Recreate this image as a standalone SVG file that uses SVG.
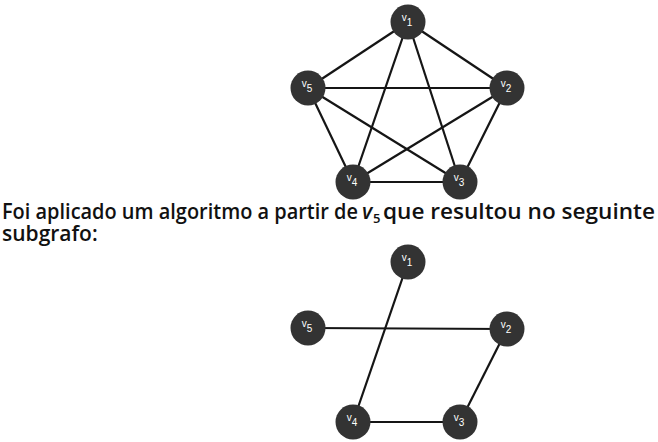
<svg xmlns="http://www.w3.org/2000/svg" width="658" height="442" viewBox="0 0 658 442">
<style>
.e{stroke:#151515;stroke-width:2.2;fill:none}
.n{fill:#333333}
.l{font-family:"Liberation Sans",Arial,sans-serif;font-size:10px;fill:#ffffff;text-anchor:middle}
.t{font-family:"Open Sans","Liberation Sans",sans-serif;font-size:21px;font-weight:600;fill:#111111}
.s{font-size:13px;font-style:normal}
</style>
<rect width="658" height="442" fill="#ffffff"/>
<g id="edges-top">
<line class="e" x1="408" y1="22" x2="507" y2="88"/>
<line class="e" x1="408" y1="22" x2="308" y2="88"/>
<line class="e" x1="408" y1="22" x2="353" y2="182"/>
<line class="e" x1="408" y1="22" x2="460" y2="182"/>
<line class="e" x1="308" y1="88" x2="507" y2="88"/>
<line class="e" x1="308" y1="88" x2="353" y2="182"/>
<line class="e" x1="308" y1="88" x2="460" y2="182"/>
<line class="e" x1="507" y1="88" x2="353" y2="182"/>
<line class="e" x1="507" y1="88" x2="460" y2="182"/>
<line class="e" x1="353" y1="182" x2="460" y2="182"/>
</g>
<g id="top-v1"><circle class="n" cx="408" cy="22" r="17.5"/><text class="l" x="407" y="21">v<tspan dy="5">1</tspan></text></g>
<g id="top-v2"><circle class="n" cx="507" cy="88" r="17.5"/><text class="l" x="506" y="87">v<tspan dy="5">2</tspan></text></g>
<g id="top-v3"><circle class="n" cx="460" cy="182" r="17.5"/><text class="l" x="459" y="181">v<tspan dy="5">3</tspan></text></g>
<g id="top-v4"><circle class="n" cx="353" cy="182" r="17.5"/><text class="l" x="352" y="181">v<tspan dy="5">4</tspan></text></g>
<g id="top-v5"><circle class="n" cx="308" cy="88" r="17.5"/><text class="l" x="307" y="87">v<tspan dy="5">5</tspan></text></g>
<g id="caption">
<text class="t"><tspan x="2" y="219" textLength="356" lengthAdjust="spacingAndGlyphs">Foi aplicado um algoritmo a partir de</tspan><tspan x="362" y="219" font-style="italic">v</tspan><tspan class="s" x="373" y="223">5</tspan><tspan x="383" y="219" textLength="272" lengthAdjust="spacingAndGlyphs">que resultou no seguinte</tspan><tspan x="2" y="241">subgrafo:</tspan></text>
</g>
<g id="edges-bottom">
<line class="e" x1="408" y1="262" x2="353" y2="422"/>
<line class="e" x1="308" y1="328" x2="507" y2="329"/>
<line class="e" x1="507" y1="329" x2="460" y2="422"/>
<line class="e" x1="353" y1="422" x2="460" y2="422"/>
</g>
<g id="bot-v1"><circle class="n" cx="408" cy="262" r="17.5"/><text class="l" x="407" y="261">v<tspan dy="5">1</tspan></text></g>
<g id="bot-v2"><circle class="n" cx="507" cy="329" r="17.5"/><text class="l" x="506" y="328">v<tspan dy="5">2</tspan></text></g>
<g id="bot-v3"><circle class="n" cx="460" cy="422" r="17.5"/><text class="l" x="459" y="421">v<tspan dy="5">3</tspan></text></g>
<g id="bot-v4"><circle class="n" cx="353" cy="422" r="17.5"/><text class="l" x="352" y="421">v<tspan dy="5">4</tspan></text></g>
<g id="bot-v5"><circle class="n" cx="308" cy="328" r="17.5"/><text class="l" x="307" y="327">v<tspan dy="5">5</tspan></text></g>
</svg>
